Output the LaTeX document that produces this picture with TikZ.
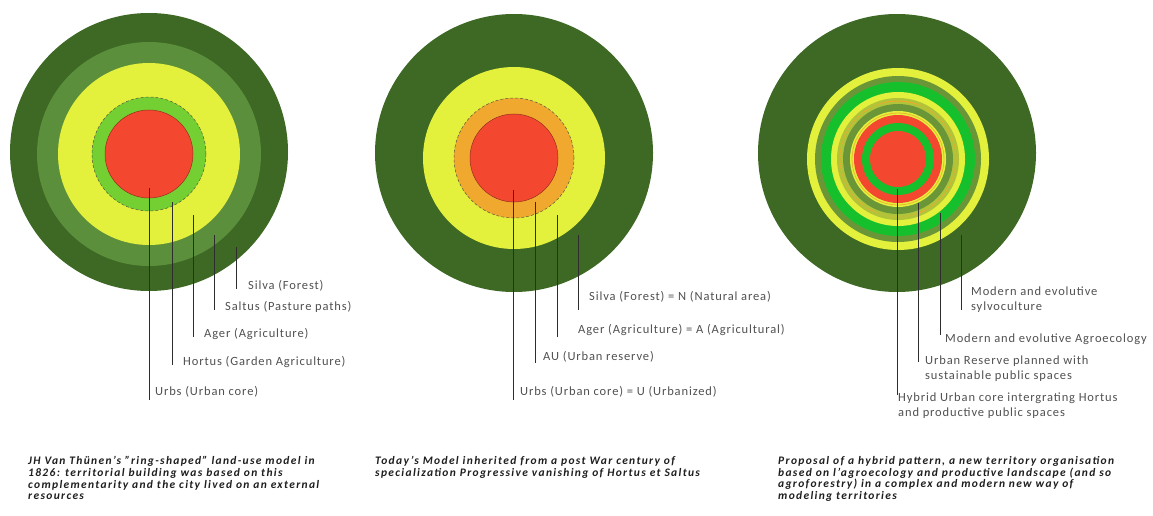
\documentclass[tikz,border=0pt]{standalone}
\usepackage{fontspec}
\setmainfont{Carlito}
\newfontfamily\lblfont[LetterSpace=7,Ligatures=TeX]{Carlito}
\newfontfamily\captfont[LetterSpace=11.5,Ligatures=TeX]{Carlito}
\usetikzlibrary{positioning}
\definecolor{silva}{RGB}{62,105,36}
\definecolor{saltus}{RGB}{92,143,60}
\definecolor{ager}{RGB}{228,241,60}
\definecolor{hortus}{RGB}{115,207,50}
\definecolor{urbs}{RGB}{244,71,47}
\definecolor{urbsline}{RGB}{150,50,30}
\definecolor{reserve}{RGB}{240,168,46}
\definecolor{agroeco}{RGB}{22,192,44}
\definecolor{olive}{RGB}{107,150,56}
\definecolor{dotzone}{RGB}{176,196,58}
\definecolor{dashgrey}{RGB}{90,90,60}
\definecolor{labelgrey}{RGB}{80,80,80}
\definecolor{captgrey}{RGB}{30,30,30}
\definecolor{leadergrey}{RGB}{45,45,45}

\begin{document}
\begin{tikzpicture}[x=1pt,y=-1pt,
  leader/.style={draw=leadergrey,line width=0.7pt},
  lbl/.style={font=\lblfont\fontsize{12.5}{15}\selectfont,text=labelgrey,anchor=west,inner sep=0pt,align=left},
  capt/.style={font=\captfont\fontsize{11.5}{11.8}\selectfont\bfseries\itshape,text=captgrey,anchor=north west,inner sep=0pt,align=left}]
  \useasboundingbox (0,0) rectangle (1153,516);
  % Von Thuenen model
  \coordinate (o1) at (149,152); \coordinate (c1) at (149,154);
  \fill[silva] (o1) circle (139pt);
  \foreach \r/\col in {112/saltus,91/ager,57/hortus} \fill[\col] (c1) circle (\r pt);
  \draw[dashgrey,densely dashed,line width=0.5pt] (c1) circle (57pt);
  \fill[urbs,draw=urbsline,line width=0.5pt] (c1) circle (44pt);
  \foreach \n/\x/\ys/\ye/\tx/\ty/\t in {
      u1/149/188/400/155/392/{Urbs (Urban core)},
      h1/172/202/365/183/362/{Hortus (Garden Agriculture)},
      a1/193/215/337/204/334/{Ager (Agriculture)},
      p1/214/235/310/225/307/{Saltus (Pasture paths)},
      s1/236/247/289/248/286/{Silva (Forest)}} {
    \coordinate (\n a) at (\x,\ys); \coordinate (\n b) at (\x,\ye);
    \draw[leader] (\n a) -- (\n b);
    \node[lbl] (\n) at (\tx,\ty) {\t};
  }
  % today's model
  \coordinate (o2) at (514,153); \coordinate (c2) at (514,158);
  \fill[silva] (o2) circle (139pt);
  \foreach \r/\col in {91/ager,60/reserve} \fill[\col] (c2) circle (\r pt);
  \draw[dashgrey,densely dashed,line width=0.5pt] (c2) circle (60pt);
  \fill[urbs,draw=urbsline,line width=0.5pt] (c2) circle (44pt);
  \foreach \n/\x/\ys/\ye/\tx/\ty/\t in {
      u2/513/190/400/520/392/{Urbs (Urban core) = U (Urbanized)},
      r2/535/202/363/543/357/{AU (Urban reserve)},
      a2/557/215/337/578/330/{Ager (Agriculture) = A (Agricultural)},
      s2/578/235/310/589/297/{Silva (Forest) = N (Natural area)}} {
    \coordinate (\n a) at (\x,\ys); \coordinate (\n b) at (\x,\ye);
    \draw[leader] (\n a) -- (\n b);
    \node[lbl] (\n) at (\tx,\ty) {\t};
  }
  % hybrid pattern
  \coordinate (o3) at (897,153); \coordinate (c3) at (898,159);
  \fill[silva] (o3) circle (139pt);
  \foreach \r/\col in {91/ager,83/olive,77/agroeco,67/ager,61/dotzone,55/olive,48/ager,44/urbs,36/agroeco,28/urbs}
    \fill[\col] (c3) circle (\r pt);
  \draw[reserve,densely dotted,line width=1pt] (c3) circle (58pt);
  \draw[reserve!80!ager,line width=0.8pt] (c3) circle (46pt);
  \foreach \n/\x/\ys/\ye/\tx/\ty/\t in {
      u3/897/189/395/898/406/{Hybrid Urban core intergrating Hortus\\and productive public spaces},
      r3/918/203/362/925/369/{Urban Reserve planned with\\sustainable public spaces},
      a3/940/213/335/945/339/{Modern and evolutive Agroecology},
      s3/961/235/310/971/300/{Modern and evolutive\\sylvoculture}} {
    \coordinate (\n a) at (\x,\ys); \coordinate (\n b) at (\x,\ye);
    \draw[leader] (\n a) -- (\n b);
    \node[lbl] (\n) at (\tx,\ty) {\t};
  }
  % captions
  \node[capt] (cap1) at (28,456) {JH Van Thünen's \symbol{34}ring-shaped\symbol{34} land-use model in\\1826: territorial building was based on this\\complementarity and the city lived on an external\\resources};
  \node[capt] (cap2) at (375,456) {Today's Model inherited from a post War century of\\specialization Progressive vanishing of Hortus et Saltus};
  \node[capt] (cap3) at (778,456) {Proposal of a hybrid pattern, a new territory organisation\\based on l'agroecology and productive landscape (and so\\agroforestry) in a complex and modern new way of\\modeling territories};
\end{tikzpicture}
\end{document}
